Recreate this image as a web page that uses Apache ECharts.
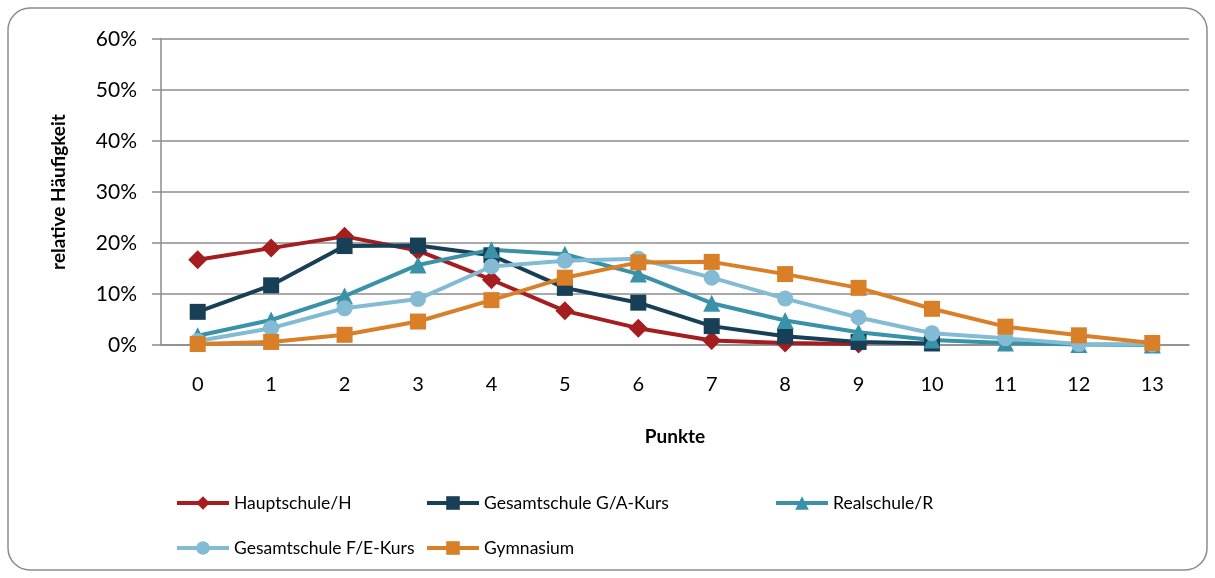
<!DOCTYPE html>
<html>
<head>
<meta charset="utf-8">
<script src="https://cdn.jsdelivr.net/npm/echarts@6/dist/echarts.min.js"></script>
<style>
  html, body { margin: 0; padding: 0; background: #fff; }
  #chart { width: 1215px; height: 578px; }
</style>
</head>
<body>
<div id="chart"></div>
<script>
var punkte = ['0', '1', '2', '3', '4', '5', '6', '7', '8', '9', '10', '11', '12', '13'];
var hauptschule = [16.7, 19.0, 21.3, 18.5, 12.8, 6.7, 3.3, 0.9, 0.4, 0.2, null, null, null, null];
var gesamtGA = [6.5, 11.7, 19.4, 19.5, 17.6, 11.2, 8.3, 3.7, 1.7, 0.6, 0.3, null, null, null];
var realschule = [1.8, 4.9, 9.6, 15.7, 18.7, 17.8, 13.9, 8.2, 4.8, 2.5, 1.0, 0.4, 0.1, 0.0];
var gesamtFE = [0.8, 3.3, 7.2, 9.0, 15.4, 16.5, 16.9, 13.2, 9.1, 5.4, 2.3, 1.3, 0.2, 0.1];
var gymnasium = [0.2, 0.6, 2.0, 4.6, 8.8, 13.2, 16.2, 16.3, 13.9, 11.2, 7.1, 3.6, 1.9, 0.4];
var yTicks = [0, 10, 20, 30, 40, 50, 60];

var font = 'Lato';

function makeSeries(name, data, color, symbol, size) {
  return {
    name: name,
    type: 'line',
    data: data,
    symbol: symbol,
    symbolSize: size,
    showAllSymbol: true,
    lineStyle: { color: color, width: 4 },
    itemStyle: { color: color },
    emphasis: { disabled: true },
    z: 3
  };
}

function makeLegend(name, left, top) {
  return {
    data: [name],
    left: left,
    top: top,
    padding: 0,
    itemWidth: 52,
    itemHeight: 17,
    itemGap: 0,
    lineStyle: { width: 4 },
    textStyle: { fontFamily: font, fontSize: 17.5, color: '#000' },
    selectedMode: false
  };
}

var chart = echarts.init(document.getElementById('chart'));
var option = {
  animation: false,
  backgroundColor: '#fff',
  graphic: [{
    type: 'rect',
    shape: { x: 8, y: 8, width: 1199, height: 562, r: 22 },
    style: { fill: 'none', stroke: '#8c8c8c', lineWidth: 1.5 },
    z: -1
  }],
  grid: { left: 161, right: 26, top: 39, bottom: 233 },
  legend: [
    makeLegend('Hauptschule/H', 175, 494),
    makeLegend('Gesamtschule G/A-Kurs', 425, 494),
    makeLegend('Realschule/R', 774, 494),
    makeLegend('Gesamtschule F/E-Kurs', 175, 539),
    makeLegend('Gymnasium', 425, 539)
  ],
  xAxis: {
    type: 'category',
    data: punkte,
    boundaryGap: true,
    name: 'Punkte',
    nameLocation: 'middle',
    nameGap: 82,
    nameTextStyle: { fontFamily: font, fontSize: 19, fontWeight: 'bold', color: '#000' },
    axisLine: { lineStyle: { color: '#8c8c8c', width: 1.5 } },
    axisTick: { alignWithLabel: true, length: 7, lineStyle: { color: '#8c8c8c', width: 1.5 } },
    axisLabel: { fontFamily: font, fontSize: 20, color: '#000', margin: 30 }
  },
  yAxis: {
    type: 'value',
    min: yTicks[0],
    max: yTicks[yTicks.length - 1],
    interval: 10,
    name: 'relative Häufigkeit',
    nameLocation: 'middle',
    nameGap: 93,
    nameRotate: 90,
    nameTextStyle: { fontFamily: font, fontSize: 19, fontWeight: 'bold', color: '#000' },
    axisLine: { show: true, lineStyle: { color: '#8c8c8c', width: 1.5 } },
    axisTick: { show: true, length: 9, lineStyle: { color: '#8c8c8c', width: 1.5 } },
    axisLabel: { fontFamily: font, fontSize: 21, color: '#000', margin: 24, formatter: '{value}%' },
    splitLine: { lineStyle: { color: '#8c8c8c', width: 1.5 } }
  },
  series: [
    makeSeries('Hauptschule/H', hauptschule, '#a61d20', 'diamond', 19),
    makeSeries('Gesamtschule G/A-Kurs', gesamtGA, '#173f55', 'rect', 16),
    makeSeries('Realschule/R', realschule, '#3a92a9', 'triangle', 17),
    makeSeries('Gesamtschule F/E-Kurs', gesamtFE, '#82bbd3', 'circle', 16),
    makeSeries('Gymnasium', gymnasium, '#d97f27', 'rect', 16)
  ]
};
chart.setOption(option);
</script>
</body>
</html>
